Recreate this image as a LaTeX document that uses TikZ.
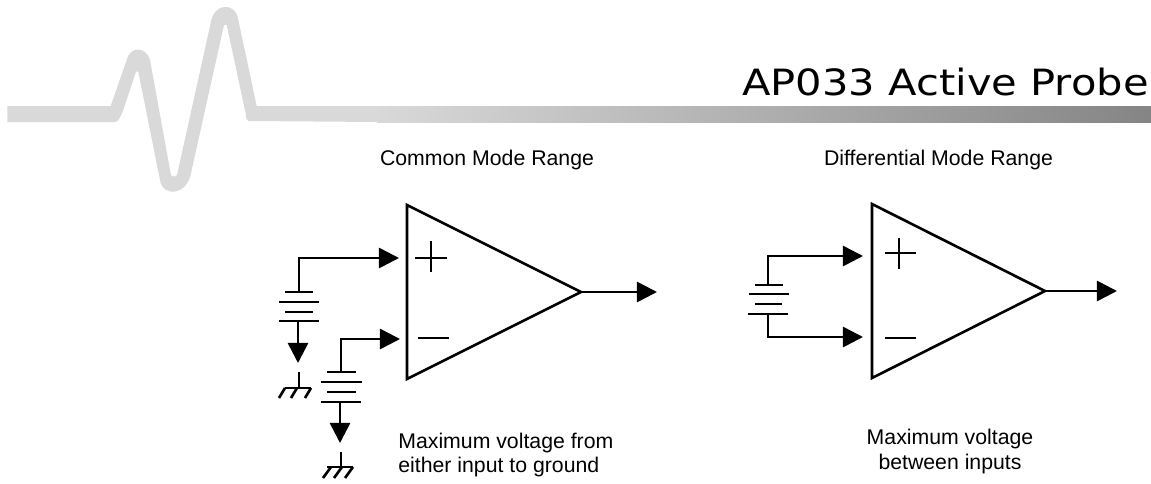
\documentclass[tikz,border=0pt]{standalone}
\usepackage{fontspec}
\setmainfont{Liberation Sans}
\newfontfamily\titlefont[FakeStretch=1.15]{DejaVu Sans}
\usetikzlibrary{arrows.meta}
\tikzset{
  wire/.style={draw, line width=1.5pt},
  signal/.style={wire, -{Triangle[length=11.5pt, width=11.5pt]}},
  caption/.style={anchor=base, inner sep=0pt, font=\fontsize{12.1}{14.2}\selectfont},
}
\begin{document}
\begin{tikzpicture}[x=0.02cm, y=-0.02cm]
    \useasboundingbox (0,0) rectangle (1151,483);
    % banner
    \path [left color=black!15, right color=black!48] (377,106) rectangle (1151,122);
    \path [fill=black!15] (7.3,106) -- (110.7,106) -- (126.7,60)
      .. controls (130,46) and (146,46) .. (150,60)
      -- (171,175) .. controls (172,177) and (176,177) .. (177,175)
      -- (210.7,23) .. controls (214,2) and (236,2) .. (238.3,20)
      -- (256.7,106) -- (378,106) -- (378,122) -- (248.3,121)
      .. controls (246,120) and (246,117) .. (246,115)
      -- (226.7,25) -- (224,25) -- (191.7,170)
      .. controls (188,197) and (162,197) .. (160,180)
      -- (138.3,71.7) -- (136,71.7) -- (123.3,110)
      .. controls (120,118) and (118,122) .. (115,122)
      -- (7.3,122) -- cycle;
    \node (title) [anchor=base east, inner sep=0pt, font=\titlefont\fontsize{20.6}{24}\selectfont] at (1149,95) {AP033 Active Probe};
    % left amplifier
    \node (cmtitle) [caption] at (487,165) {Common Mode Range};
    \coordinate (cmtop) at (407,205);
    \coordinate (cmbot) at (407,379);
    \coordinate (cmout) at (581,292);
    \path [wire] (cmtop) -- (cmout) -- (cmbot) -- cycle;
    \path [wire] (415,258) -- (447,258) (431,241) -- (431,272);
    \path [wire] (418,338) -- (449,338);
    \coordinate (cmend) at (657,292);
    \draw [signal] (cmout) -- (cmend);
    % first cell and its ground
    \coordinate (cellA) at (299,292);
    \coordinate (tipA) at (399,258);
    \draw [signal] (cellA) |- (tipA);
    \foreach \y/\a/\b in {292/285/313, 302/279/319, 312/285/313, 321/279/319} \path [wire] (\a,\y) -- (\b,\y);
    \coordinate (cellAlow) at (298,321);
    \coordinate (gndAtip) at (298,363);
    \draw [signal] (cellAlow) -- (gndAtip);
    \path [wire] (299,372) -- (299,388) (285,388) -- (311,388);
    \foreach \x in {285,297,311} \path [wire] (\x,388) -- +(-6,10);
    % second cell and its ground
    \coordinate (cellB) at (341,372);
    \coordinate (tipB) at (400,339);
    \draw [signal] (cellB) |- (tipB);
    \foreach \y/\a/\b in {372/327/356, 382/321/362, 392/327/356, 402/321/361} \path [wire] (\a,\y) -- (\b,\y);
    \coordinate (cellBlow) at (340,402);
    \coordinate (gndBtip) at (340,443);
    \draw [signal] (cellBlow) -- (gndBtip);
    \path [wire] (341,452) -- (341,467) (327,467) -- (353,467);
    \foreach \x in {331,342,353} \path [wire] (\x,467) -- +(-8,11);
    \node (cmnoteA) [caption, anchor=base west] at (398,448) {Maximum voltage from};
    \node (cmnoteB) [caption, anchor=base west] at (398,472) {either input to ground};
    % right amplifier
    \node (dmtitle) [caption] at (938.5,165) {Differential Mode Range};
    \coordinate (dmtop) at (872,204);
    \coordinate (dmbot) at (872,378);
    \coordinate (dmout) at (1045,291);
    \path [wire] (dmtop) -- (dmout) -- (dmbot) -- cycle;
    \path [wire] (885,253) -- (916,253) (899,238) -- (899,269);
    \path [wire] (885,338) -- (916,338);
    \coordinate (dmend) at (1117,291);
    \draw [signal] (dmout) -- (dmend);
    \coordinate (cellC) at (768,285);
    \coordinate (cellClow) at (768,314);
    \coordinate (tipC) at (863,256);
    \coordinate (tipD) at (863,337);
    \draw [signal] (cellC) |- (tipC);
    \draw [signal] (cellClow) |- (tipD);
    \foreach \y/\a/\b in {285/755/783, 294/749/789, 304/755/782, 314/748/788} \path [wire] (\a,\y) -- (\b,\y);
    \node (dmnoteA) [caption] at (950,444) {Maximum voltage};
    \node (dmnoteB) [caption] at (950,469) {between inputs};
  \end{tikzpicture}
\end{document}
